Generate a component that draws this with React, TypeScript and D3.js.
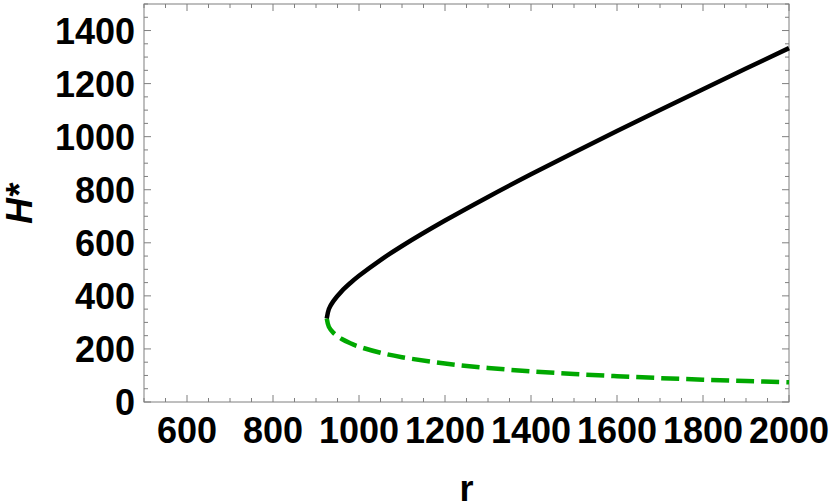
import React from "react";
import * as d3 from "d3";

const rValues = [925, 930, 940, 960, 980, 1000, 1050, 1100, 1200, 1300, 1400, 1500, 1600, 1700, 1800, 1900, 2000];
const upperH = [315, 350.5, 379.3, 418.0, 448.6, 475.7, 535.0, 588.0, 683.9, 773.0, 858.2, 940.6, 1021.3, 1100.7, 1179.0, 1256.6, 1333.6];
const lowerH = [315, 283.1, 261.6, 237.4, 221.2, 208.6, 185.5, 168.8, 145.1, 128.3, 115.6, 105.5, 97.2, 90.1, 84.2, 79.0, 74.4];
const xTickLabels = [600, 800, 1000, 1200, 1400, 1600, 1800, 2000];
const yTickLabels = [0, 200, 400, 600, 800, 1000, 1200, 1400];

const W = 830, H = 502;
const left = 144, right = 789, top = 4, bottom = 402;

export default function App() {
  const x = d3.scaleLinear().domain([500, 2000]).range([left, right]);
  const y = d3.scaleLinear().domain([0, 1500]).range([bottom, top]);
  const line = d3.line<[number, number]>().x(d => x(d[0])).y(d => y(d[1])).curve(d3.curveCatmullRom.alpha(0.5));
  const up = rValues.map((r, i) => [r, upperH[i]] as [number, number]);
  const lo = rValues.map((r, i) => [r, lowerH[i]] as [number, number]);
  const xMinor = d3.range(500, 2001, 50);
  const yMinor = d3.range(0, 1501, 50);
  const tickColor = "#7f7f7f";
  const font = "'Liberation Sans', Arial, sans-serif";
  return (
    <svg width={W} height={H} style={{ position: "absolute", left: 0, top: 0, background: "#fff" }}>
      <rect x={left} y={top} width={right - left} height={bottom - top} fill="none" stroke={tickColor} strokeWidth={1} />
      {xMinor.map(v => {
        const major = v % 200 === 0;
        const len = major ? 7 : 4;
        return (
          <g key={"x" + v}>
            <line x1={x(v)} x2={x(v)} y1={bottom} y2={bottom - len} stroke={tickColor} />
            <line x1={x(v)} x2={x(v)} y1={top} y2={top + len} stroke={tickColor} />
          </g>
        );
      })}
      {yMinor.map(v => {
        const major = v % 200 === 0;
        const len = major ? 7 : 4;
        return (
          <g key={"y" + v}>
            <line x1={left} x2={left + len} y1={y(v)} y2={y(v)} stroke={tickColor} />
            <line x1={right} x2={right - len} y1={y(v)} y2={y(v)} stroke={tickColor} />
          </g>
        );
      })}
      {xTickLabels.map(v => (
        <text key={"xl" + v} x={x(v)} y={443} textAnchor="middle" fontFamily={font} fontWeight="bold" fontSize={36}>{v}</text>
      ))}
      {yTickLabels.map(v => (
        <text key={"yl" + v} x={135} y={y(v) + 13} textAnchor="end" fontFamily={font} fontWeight="bold" fontSize={36}>{v}</text>
      ))}
      <text x={(left + right) / 2} y={501} textAnchor="middle" fontFamily={font} fontWeight="bold" fontSize={36}>r</text>
      <text transform={`translate(32,204) rotate(-90)`} textAnchor="middle" fontFamily={font} fontWeight="bold" fontStyle="italic" fontSize={36}>H*</text>
      <path d={line(lo) || ""} fill="none" stroke="#00a800" strokeWidth={4.5} strokeDasharray="18,7" />
      <path d={line(up) || ""} fill="none" stroke="#000" strokeWidth={4.5} />
    </svg>
  );
}
